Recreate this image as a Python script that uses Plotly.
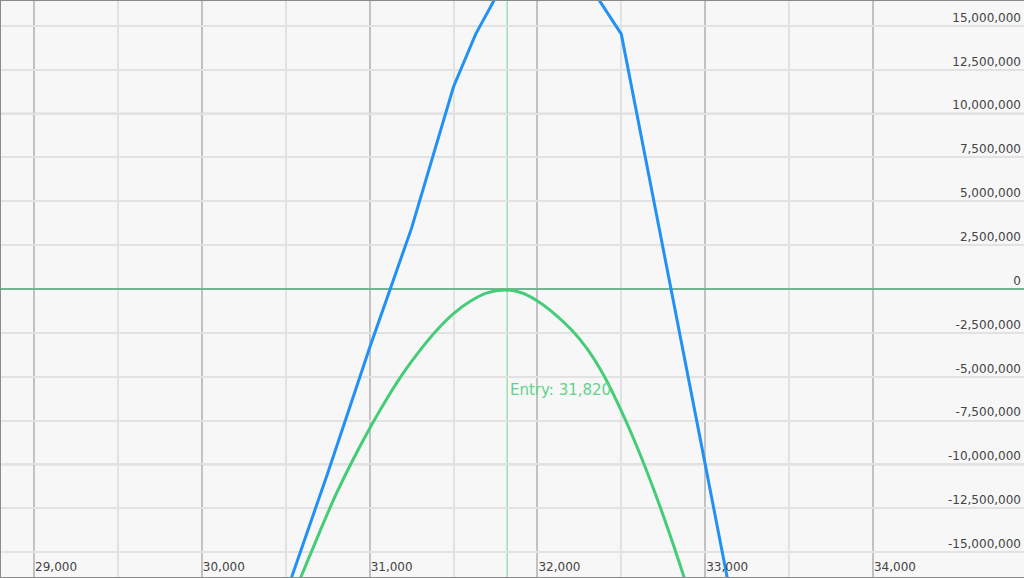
import plotly.graph_objects as go

# ---- data ----
blue_x = [30500, 30750, 31000, 31250, 31500, 31632, 31750, 32000, 32250, 32500, 33000, 33250]
blue_y = [-17.4e6, -10.5e6, -3.35e6, 3.47e6, 11.53e6, 14.53e6, 16.6e6, 20.0e6, 18.2e6, 14.53e6, -10.0e6, -22.3e6]

green_x = [30500, 30600, 30700, 30800, 30900, 31000, 31100, 31200, 31300, 31400, 31500,
           31600, 31700, 31800, 31900, 32000, 32100, 32200, 32300, 32400, 32500,
           32600, 32700, 32800, 32900]
green_y = [-18.5e6, -16.2e6, -13.9e6, -11.7e6, -9.75e6, -7.95e6, -6.3e6, -4.8e6, -3.5e6, -2.35e6, -1.4e6,
           -0.7e6, -0.22e6, -0.05e6, -0.2e6, -0.68e6, -1.4e6, -2.3e6, -3.45e6, -5.0e6, -6.95e6,
           -9.15e6, -11.6e6, -14.3e6, -17.2e6]

entry_price = 31820
entry_label = "Entry: 31,820"

x_tick_vals = [29000, 30000, 31000, 32000, 33000, 34000]
x_tick_text = ["29,000", "30,000", "31,000", "32,000", "33,000", "34,000"]

y_tick_vals = [15e6, 12.5e6, 10e6, 7.5e6, 5e6, 2.5e6, 0, -2.5e6, -5e6, -7.5e6, -10e6, -12.5e6, -15e6]
y_tick_text = ["15,000,000", "12,500,000", "10,000,000", "7,500,000", "5,000,000", "2,500,000", "0",
               "-2,500,000", "-5,000,000", "-7,500,000", "-10,000,000", "-12,500,000", "-15,000,000"]
y_major_lines = [10e6, -10e6]

FONT = "DejaVu Sans"

fig = go.Figure()
fig.add_trace(go.Scatter(x=green_x, y=green_y, mode="lines", line=dict(color="#45cc78", width=3, shape="spline"),
                         hoverinfo="skip", showlegend=False))
fig.add_trace(go.Scatter(x=blue_x, y=blue_y, mode="lines", line=dict(color="#2291f5", width=3),
                         hoverinfo="skip", showlegend=False))

shapes = []
for v in y_major_lines:
    shapes.append(dict(type="line", xref="paper", x0=0, x1=1, yref="y", y0=v, y1=v,
                       line=dict(color="#bdbdbd", width=1.5), layer="between"))
shapes.append(dict(type="line", xref="x", x0=entry_price, x1=entry_price, yref="paper", y0=0, y1=1,
                   line=dict(color="#9ddfb3", width=1.5), layer="between"))
shapes.append(dict(type="line", xref="paper", x0=0, x1=0, yref="paper", y0=0, y1=1,
                   line=dict(color="#8a8a8a", width=2), layer="above"))

fig.update_layout(
    width=1024, height=578,
    margin=dict(l=0, r=0, t=1, b=1),
    paper_bgcolor="#f7f7f7", plot_bgcolor="#f7f7f7",
    font=dict(family=FONT, size=12, color="#929292"),
    shapes=shapes,
    annotations=[dict(x=entry_price, y=-5.75e6, xref="x", yref="y", text=entry_label, showarrow=False,
                      xanchor="left", yanchor="middle", xshift=1,
                      font=dict(family=FONT, size=15, color="#5fd38c"))],
    xaxis=dict(range=[28797, 34900], tickvals=x_tick_vals, ticktext=x_tick_text,
               ticklabelposition="inside right", showgrid=True, gridcolor="#c2c2c2", gridwidth=1.5,
               minor=dict(dtick=500, tick0=0, showgrid=True, gridcolor="#e2e2e2", gridwidth=1.5),
               showline=True, mirror=True, linecolor="#8a8a8a", linewidth=2,
               zeroline=False, ticks="", fixedrange=True),
    yaxis=dict(range=[-16.42e6, 16.42e6], side="right", tickvals=y_tick_vals, ticktext=y_tick_text,
               ticklabelposition="inside top", showgrid=True, gridcolor="#e2e2e2", gridwidth=1.5,
               zeroline=True, zerolinecolor="#74b493", zerolinewidth=1.5,
               showline=False, ticks="", fixedrange=True),
)

fig.write_html("out.html", config={"displayModeBar": False},
               post_script="document.body.style.margin='0';document.body.style.overflow='hidden';")
